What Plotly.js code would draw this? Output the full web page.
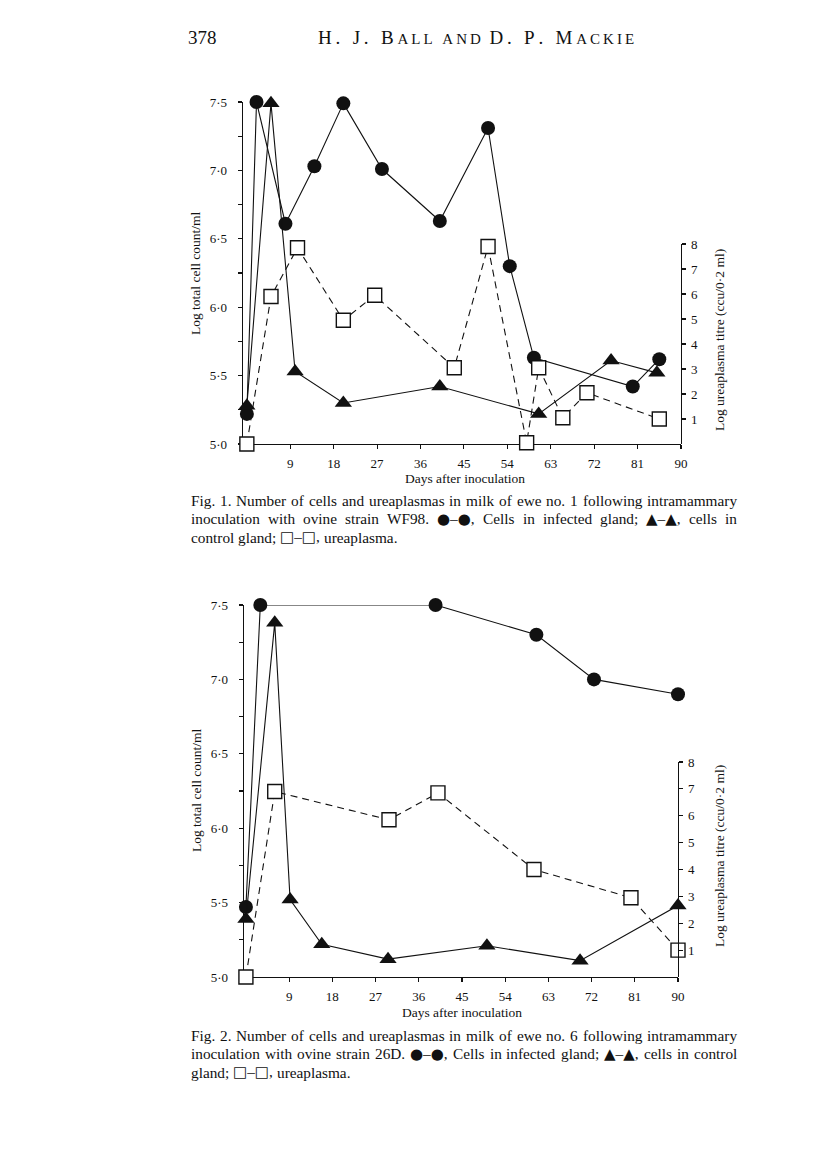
<!DOCTYPE html>
<html>
<head>
<meta charset="utf-8">
<script src="https://cdn.plot.ly/plotly-3.0.1.min.js"></script>
<style>
  html, body { margin: 0; padding: 0; background: #fff; }
  #chart { width: 816px; height: 1155px; }
</style>
</head>
<body>
<div id="chart"></div>
<script>
// Fig. 1 – ewe no. 1, strain WF98
const fig1CircleDays = [0, 2, 8, 14, 20, 28, 40, 50, 54.5, 59.5, 80, 85.5];
const fig1CircleVals = [5.22, 7.5, 6.61, 7.03, 7.49, 7.01, 6.63, 7.31, 6.30, 5.63, 5.42, 5.62];
const fig1TriDays = [0, 5, 10, 20, 40, 60.5, 75.5, 85];
const fig1TriVals = [5.28, 7.49, 5.53, 5.30, 5.42, 5.22, 5.61, 5.52];
const fig1SqDays = [0, 5, 10.5, 20, 26.5, 43, 50, 58, 60.5, 65.5, 70.5, 85.5];
const fig1SqVals = [0, 5.9, 7.85, 4.95, 5.95, 3.05, 7.9, 0.05, 3.05, 1.05, 2.05, 1.0];

// Fig. 2 – ewe no. 6, strain 26D
const fig2CircleDays = [0, 3, 39.5, 60.5, 72.5, 90];
const fig2CircleVals = [5.47, 7.5, 7.5, 7.3, 7.0, 6.9];
const fig2TriDays = [0, 6, 9.2, 15.8, 29.6, 50.2, 69.6, 90];
const fig2TriVals = [5.39, 7.38, 5.52, 5.22, 5.12, 5.21, 5.11, 5.48];
const fig2SqDays = [0, 6, 29.8, 40, 60, 80.2, 90];
const fig2SqVals = [0, 6.9, 5.85, 6.85, 4.0, 2.95, 1.0];

// tick labels
const dayTicks = [9, 18, 27, 36, 45, 54, 63, 72, 81, 90];
const cellTicks = [5, 5.25, 5.5, 5.75, 6, 6.25, 6.5, 6.75, 7, 7.25, 7.5];
const cellTickText = ['5·0', '', '5·5', '', '6·0', '', '6·5', '', '7·0', '', '7·5'];
const titreTicks = [1, 2, 3, 4, 5, 6, 7, 8];

const caption1 = [
    'Fig. 1. Number of cells and ureaplasmas in milk of ewe no. 1 following intramammary',
    'inoculation with ovine strain WF98. ●–●, Cells in infected gland; ▲–▲, cells in',
    'control gland; □–□, ureaplasma.'
];
const caption2 = [
    'Fig. 2. Number of cells and ureaplasmas in milk of ewe no. 6 following intramammary',
    'inoculation with ovine strain 26D. ●–●, Cells in infected gland; ▲–▲, cells in control',
    'gland; □–□, ureaplasma.'
];

const W = 816, H = 1155;
const px = x => x / W;
const py = y => 1 - y / H;

const SERIF = '"Liberation Serif", "DejaVu Serif", serif';
const INK = '#111';

function circleTrace(x, y, xa, ya) {
    return {
        x: x, y: y, xaxis: xa, yaxis: ya,
        type: 'scatter', mode: 'lines+markers', cliponaxis: false, showlegend: false,
        line: { color: INK, width: 1.1 },
        marker: { symbol: 'circle', size: 14, color: INK }
    };
}
function triTrace(x, y, xa, ya) {
    return {
        x: x, y: y, xaxis: xa, yaxis: ya,
        type: 'scatter', mode: 'lines+markers', cliponaxis: false, showlegend: false,
        line: { color: INK, width: 1.1 },
        marker: { symbol: 'triangle-up', size: 15, color: INK }
    };
}
function squareTrace(x, y, xa, ya) {
    return {
        x: x, y: y, xaxis: xa, yaxis: ya,
        type: 'scatter', mode: 'lines+markers', cliponaxis: false, showlegend: false,
        line: { color: INK, width: 1.1, dash: '7px,5px' },
        marker: { symbol: 'square', size: 14, color: '#fff', line: { color: INK, width: 1.4 } }
    };
}

const traces = [
    circleTrace(fig1CircleDays, fig1CircleVals, 'x', 'y'),
    triTrace(fig1TriDays, fig1TriVals, 'x', 'y'),
    squareTrace(fig1SqDays, fig1SqVals, 'x', 'y2'),
    circleTrace(fig2CircleDays, fig2CircleVals, 'x2', 'y3'),
    triTrace(fig2TriDays, fig2TriVals, 'x2', 'y3'),
    squareTrace(fig2SqDays, fig2SqVals, 'x2', 'y4')
];

// base axis style; ticks cross the line, so every axis gets an
// overlay twin that draws the inside half of the tick
const tickFont = { family: SERIF, size: 13, color: INK };
function baseAxis(extra) {
    return Object.assign({
        showgrid: false, zeroline: false, showline: true, linecolor: INK, linewidth: 1.3,
        ticks: 'outside', ticklen: 4, tickcolor: INK, tickwidth: 1.1,
        tickmode: 'array', tickfont: tickFont, fixedrange: true
    }, extra);
}
function twinAxis(extra) {
    return Object.assign({
        showgrid: false, zeroline: false, showline: false,
        ticks: 'inside', ticklen: 4, tickcolor: INK, tickwidth: 1.1,
        tickmode: 'array', showticklabels: false, fixedrange: true
    }, extra);
}

// page geometry in pixels
const f1 = { left: 243, right: 681, bottom: 444, top: 102, titreTop: 244 };
const f2 = { left: 244, right: 678, bottom: 977, top: 605, titreTop: 762 };

const x1 = { domain: [px(f1.left), px(f1.right)], range: [-0.8, 90], anchor: 'y', tickvals: dayTicks, ticktext: dayTicks.map(String), ticklabelstandoff: 3 };
const x2 = { domain: [px(f2.left), px(f2.right)], range: [-0.4, 90], anchor: 'y3', tickvals: dayTicks, ticktext: dayTicks.map(String), ticklabelstandoff: 3 };
const y1 = { domain: [py(f1.bottom), py(f1.top)], range: [5, 7.5], anchor: 'x', tickvals: cellTicks, ticktext: cellTickText, ticklabelstandoff: 8 };
const y3 = { domain: [py(f2.bottom), py(f2.top)], range: [5, 7.5], anchor: 'x2', tickvals: cellTicks, ticktext: cellTickText, ticklabelstandoff: 8 };
const y2 = { domain: [py(f1.bottom), py(f1.titreTop)], range: [0, 8], anchor: 'x', side: 'right', tickvals: titreTicks, ticktext: titreTicks.map(String), ticklabelstandoff: 2 };
const y4 = { domain: [py(f2.bottom), py(f2.titreTop)], range: [0, 8], anchor: 'x2', side: 'right', tickvals: titreTicks, ticktext: titreTicks.map(String), ticklabelstandoff: 2 };

const layout = {
    width: W, height: H,
    margin: { l: 0, r: 0, t: 0, b: 0 },
    paper_bgcolor: '#fff', plot_bgcolor: 'rgba(0,0,0,0)',
    showlegend: false,
    xaxis: baseAxis(x1),
    xaxis2: baseAxis(x2),
    yaxis: baseAxis(y1),
    yaxis2: baseAxis(y2),
    yaxis3: baseAxis(y3),
    yaxis4: baseAxis(y4),
    xaxis3: twinAxis(Object.assign({}, x1, { overlaying: 'x' })),
    xaxis4: twinAxis(Object.assign({}, x2, { overlaying: 'x2' })),
    yaxis5: twinAxis(Object.assign({}, y1, { overlaying: 'y' })),
    yaxis6: twinAxis(Object.assign({}, y2, { overlaying: 'y2' })),
    yaxis7: twinAxis(Object.assign({}, y3, { overlaying: 'y3' })),
    yaxis8: twinAxis(Object.assign({}, y4, { overlaying: 'y4' })),
    annotations: []
};

function note(text, x, y, opts) {
    return Object.assign({
        text: text, x: px(x), y: py(y), xref: 'paper', yref: 'paper',
        showarrow: false, xanchor: 'center', yanchor: 'middle',
        font: { family: SERIF, size: 13.5, color: INK }
    }, opts || {});
}

// page header, small caps faked with a smaller size and thin spaces
const THIN = '\u2009';
const spaced = s => s.split('').join(THIN);
const headerText = spaced('H. J. B') + THIN + '<span style="font-size:15px">' + spaced('ALL AND') + '</span>' + THIN + ' ' +
    spaced('D. P. M') + THIN + '<span style="font-size:15px">' + spaced('ACKIE') + '</span>';
layout.annotations.push(note('378', 186, 38, { xanchor: 'left', font: { family: SERIF, size: 19, color: INK } }));
layout.annotations.push(note(headerText, 476, 38, { font: { family: SERIF, size: 19, color: INK } }));

// axis titles
layout.annotations.push(note('Log total cell count/ml', 196, 273, { textangle: -90 }));
layout.annotations.push(note('Days after inoculation', 465, 478));
layout.annotations.push(note('Log ureaplasma titre (ccu/0·2 ml)', 719, 340, { textangle: -90 }));
layout.annotations.push(note('Log total cell count/ml', 196, 790, { textangle: -90 }));
layout.annotations.push(note('Days after inoculation', 462, 1012));
layout.annotations.push(note('Log ureaplasma titre (ccu/0·2 ml)', 719, 856, { textangle: -90 }));

// captions, justified word by word like the printed page
const CAP_LEFT = 190, CAP_RIGHT = 736, CAP_SIZE = 15.3, SYM_SIZE = 15;
const SYMBOLS = /([●▲□])/;
const measure = document.createElement('canvas').getContext('2d');

function wordWidth(w) {
    return w.split(SYMBOLS).filter(p => p).reduce((sum, part) => {
        measure.font = SYMBOLS.test(part) ? SYM_SIZE + 'px "DejaVu Sans"' : CAP_SIZE + 'px "Liberation Serif"';
        return sum + measure.measureText(part).width;
    }, 0);
}
function wordHtml(w) {
    return w.split(SYMBOLS).filter(p => p)
        .map(p => SYMBOLS.test(p)
            ? '<span style="font-family:\'DejaVu Sans\';font-size:' + SYM_SIZE + 'px">' + p + '</span>'
            : p)
        .join('');
}

function captionLine(text, y, justify) {
    const capFont = { family: SERIF, size: CAP_SIZE, color: INK };
    const words = text.split(' ');
    const widths = words.map(wordWidth);
    const total = widths.reduce((a, b) => a + b, 0);
    const space = wordWidth(' ') || CAP_SIZE * 0.25;
    const gap = justify ? (CAP_RIGHT - CAP_LEFT - total) / (words.length - 1) : space;
    let x = CAP_LEFT;
    return words.map((w, i) => {
        const a = note(wordHtml(w), x, y, { xanchor: 'left', font: capFont, borderpad: 0 });
        x += widths[i] + gap;
        return a;
    });
}

function addCaption(lines, yTop) {
    lines.forEach((line, i) => {
        captionLine(line, yTop + i * 18.5, i < lines.length - 1)
            .forEach(a => layout.annotations.push(a));
    });
}
addCaption(caption1, 500);
addCaption(caption2, 1035);

Plotly.newPlot('chart', traces, layout, { staticPlot: true, displayModeBar: false });
</script>
</body>
</html>
